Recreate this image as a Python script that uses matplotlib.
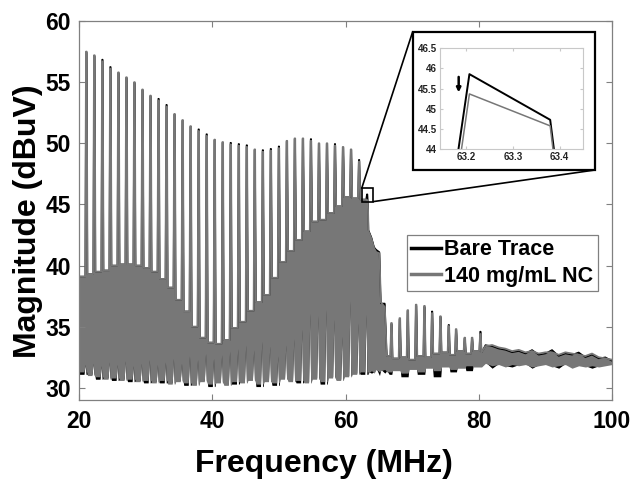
import matplotlib
matplotlib.use("Agg")
import matplotlib.pyplot as plt
from matplotlib.patches import Rectangle, ConnectionPatch
from matplotlib.lines import Line2D
from matplotlib.ticker import FuncFormatter

plt.rcParams["font.family"] = ["Liberation Sans", "DejaVu Sans"]
plt.rcParams["font.weight"] = "bold"

BARE = "black"
NC = "#777777"

# main comb: one tall peak every ~1.2 MHz
peak_freq = [21.05, 22.25, 23.46, 24.66, 25.87, 27.07, 28.27, 29.48, 30.68, 31.89,
             33.09, 34.29, 35.50, 36.70, 37.91, 39.11, 40.31, 41.52, 42.72, 43.93,
             45.13, 46.33, 47.54, 48.74, 49.95, 51.15, 52.35, 53.56, 54.76, 55.97,
             57.17, 58.37, 59.58, 60.78, 61.99, 63.20]
bare_peak = [57.45, 57.15, 56.85, 56.25, 55.75, 55.35, 54.95, 54.35, 53.85, 53.65,
             53.15, 52.35, 51.85, 51.35, 51.15, 50.75, 50.25, 50.05, 50.05, 49.95,
             49.85, 49.45, 49.45, 49.55, 49.75, 50.15, 50.35, 50.35, 50.35, 49.95,
             49.95, 49.95, 49.65, 49.45, 48.65, 45.83]
nc_peak = [57.5, 57.2, 56.7, 56.1, 55.8, 55.4, 55.0, 54.4, 53.9, 53.5,
           53.0, 52.4, 51.9, 51.4, 51.0, 50.6, 50.3, 50.1, 49.9, 49.8,
           49.7, 49.5, 49.3, 49.4, 49.6, 50.2, 50.4, 50.4, 50.2, 50.0,
           50.0, 49.8, 49.7, 49.5, 48.5, 45.35]
# top of the dense band just before each peak
comb_mid = [39.1, 39.3, 39.5, 39.6, 40.0, 40.1, 40.1, 40.0, 39.8, 39.5,
            38.9, 38.2, 37.2, 36.25, 35.0, 34.1, 33.7, 33.6, 33.9, 34.9,
            35.4, 36.3, 37.0, 37.6, 39.0, 40.3, 41.2, 42.1, 42.8, 43.6,
            43.75, 44.3, 44.85, 45.6, 45.5, 45.4]
nc_floor = [31.3, 31.0, 30.9, 30.7, 30.8, 30.6, 30.7, 30.5, 30.6, 30.4,
            30.6, 30.3, 30.5, 30.4, 30.2, 30.5, 30.3, 30.4, 30.2, 30.5,
            30.4, 30.6, 30.3, 30.5, 30.4, 30.7, 30.5, 30.6, 30.4, 30.7,
            30.5, 30.8, 30.6, 30.9, 31.1, 31.3]
bare_floor = [31.1, 31.1, 30.7, 30.8, 30.6, 30.7, 30.5, 30.6, 30.4, 30.5,
              30.4, 30.4, 30.6, 30.2, 30.3, 30.6, 30.1, 30.5, 30.3, 30.3,
              30.5, 30.7, 30.1, 30.6, 30.2, 30.8, 30.6, 30.4, 30.5, 30.8,
              30.3, 30.9, 30.7, 31.0, 31.2, 31.1]
# light streaks rising from the floor next to each peak
comb_notch = [31.9, 32.0, 31.8, 32.1, 31.9, 32.2, 31.8, 32.0, 32.3, 31.9,
              32.1, 32.4, 32.0, 32.6, 32.3, 32.8, 32.4, 32.7, 33.0, 33.2,
              33.5, 33.1, 33.8, 33.4, 32.6, 33.5, 34.0, 34.8, 36.1, 35.9,
              36.4, 35.6, 34.2, 37.1, 35.3, 36.0]

# fall-off after the last big peak
tail_freq = [63.38, 63.45, 63.9, 64.3, 64.6, 65.1, 65.3, 65.9, 66.2]
bare_tail = [44.70, 42.9, 42.3, 41.5, 41.3, 41.1, 36.9, 36.9, 32.6]
nc_tail = [44.57, 42.8, 42.2, 41.4, 41.1, 41.0, 37.0, 36.6, 32.6]
bare_tail_floor = [31.1, 31.3, 31.2, 31.3, 31.6, 31.0, 31.5, 31.2, 31.4]
nc_tail_floor = [31.3, 31.2, 31.4, 31.2, 31.5, 31.3, 31.4, 31.5, 31.3]

# smaller comb 66-80 MHz
post_freq = [66.85, 68.1, 69.3, 70.55, 71.8, 72.95, 74.2, 75.45, 76.55, 77.85, 78.95, 80.2]
bare_post = [35.2, 35.6, 36.3, 36.7, 36.6, 36.25, 35.8, 35.15, 34.7, 34.05, 34.0, 34.6]
nc_post = [35.3, 35.7, 36.35, 36.8, 36.7, 36.1, 35.85, 35.05, 34.8, 34.1, 34.1, 34.4]
post_mid = [32.6, 32.4, 32.5, 32.3, 32.6, 32.5, 32.8, 32.9, 32.7, 33.0, 32.8, 33.0, 32.9]
nc_post_floor = [31.3, 31.4, 31.2, 31.5, 31.3, 31.6, 31.4, 31.7, 31.5, 31.6, 31.8, 31.7, 31.7]
bare_post_floor = [31.1, 31.5, 30.9, 31.6, 31.1, 31.7, 30.9, 31.8, 31.3, 31.7, 31.4, 31.8, 31.8]

# noise floor 81-100 MHz
noise_freq = [81, 82, 83, 84, 85, 86, 87, 88, 89, 90,
              91, 92, 93, 94, 95, 96, 97, 98, 99, 100]
nc_noise_hi = [33.4, 33.5, 33.3, 33.2, 33.0, 33.1, 32.9, 33.0, 32.8, 32.9,
               32.9, 32.7, 32.9, 32.8, 32.7, 32.6, 32.8, 32.5, 32.4, 32.3]
nc_noise_lo = [32.0, 31.8, 31.9, 31.7, 31.9, 31.8, 31.9, 31.7, 31.8, 31.9,
               31.7, 31.8, 31.9, 31.6, 31.8, 31.7, 31.8, 31.7, 31.8, 31.9]
bare_noise_hi = [33.5, 33.4, 33.2, 33.1, 32.9, 33.0, 32.8, 33.1, 32.7, 32.8,
                 33.1, 32.6, 32.8, 32.7, 32.9, 32.5, 32.7, 32.4, 32.5, 32.2]
bare_noise_lo = [32.1, 31.6, 32.0, 31.8, 31.7, 31.9, 32.0, 31.6, 31.9, 32.0,
                 31.8, 31.6, 32.0, 31.7, 31.9, 31.8, 31.6, 31.8, 31.9, 32.0]

# inset: zoom on the 63.2 MHz peak
zoom_bare_freq = [63.1835, 63.207, 63.38, 63.388]
zoom_bare = [44.0, 45.86, 44.73, 44.0]
zoom_nc_freq = [63.19, 63.207, 63.38, 63.386]
zoom_nc = [44.0, 45.37, 44.58, 44.0]


def comb(freqs, peaks, mids, floors, notches):
    x, hi, lo = [], [], []
    for i, f in enumerate(freqs):
        x += [f - 0.3, f - 0.12, f, f + 0.1]
        hi += [mids[i], mids[i], peaks[i], peaks[i]]
        lo += [floors[i], notches[i], floors[i], floors[i]]
        if i + 1 < len(mids):
            x.append(f + 0.22)
            hi.append(mids[i + 1])
            lo.append(floors[i + 1])
    return x, hi, lo


def trace(peak, floor, tail, tail_floor, post, post_floor, noise_hi, noise_lo):
    x, hi, lo = [20.0], [comb_mid[0]], [floor[0]]
    cx, ch, cl = comb(peak_freq, peak, comb_mid, floor, comb_notch)
    x += cx; hi += ch; lo += cl
    x += tail_freq; hi += tail; lo += tail_floor
    cx, ch, cl = comb(post_freq, post, post_mid, post_floor, post_floor)
    x += cx; hi += ch; lo += cl
    x += noise_freq; hi += noise_hi; lo += noise_lo
    return x, hi, lo


fig = plt.figure(figsize=(6.43, 4.79), dpi=100)
ax = fig.add_axes([0.1229, 0.1649, 0.8289, 0.7912])

series = [
    (BARE, 1.0, trace(bare_peak, bare_floor, bare_tail, bare_tail_floor, bare_post,
                      bare_post_floor, bare_noise_hi, bare_noise_lo)),
    (NC, 1.3, trace(nc_peak, nc_floor, nc_tail, nc_tail_floor, nc_post,
                    nc_post_floor, nc_noise_hi, nc_noise_lo)),
]
for color, lw, (x, hi, lo) in series:
    ax.fill_between(x, lo, hi, color=color, linewidth=0)
    ax.plot(x, hi, color=color, lw=lw)

ax.set_xlim(20, 100)
ax.set_ylim(29.0, 60)
ax.set_xticks([20, 40, 60, 80, 100])
ax.set_yticks([30, 35, 40, 45, 50, 55, 60])
for s in ax.spines.values():
    s.set_color("#808080")
    s.set_linewidth(0.9)
ax.tick_params(direction="in", length=4, color="#808080", top=True, right=True,
               labelsize=16.5, labelcolor="black")
ax.tick_params(axis="x", pad=7.5)
ax.tick_params(axis="y", pad=6)

fig.text(0.504, 0.0146, "Frequency (MHz)", fontsize=23, fontweight="bold",
         ha="center", va="baseline")
fig.text(0.0435, 0.5376, "Magnitude (dBuV)", fontsize=23, fontweight="bold",
         ha="center", va="center", rotation=90)

handles = [Line2D([], [], color=BARE, lw=2.5), Line2D([], [], color=NC, lw=2.5)]
leg = ax.legend(handles, ["Bare Trace", "140 mg/mL NC"], loc="upper left",
                bbox_to_anchor=(0.6325, 0.5094), bbox_transform=fig.transFigure,
                fontsize=15.5, frameon=True, fancybox=False, framealpha=1,
                borderpad=0.2, labelspacing=0.25, handlelength=1.4,
                handletextpad=0.15, borderaxespad=0)
leg.get_frame().set_edgecolor("#808080")
leg.get_frame().set_linewidth(0.9)

# box marking the zoomed region
ax.add_patch(Rectangle((62.43, 45.23), 1.74, 1.09, fill=False, edgecolor="black",
                       lw=1.2, zorder=5))

frame = Rectangle((0.6418, 0.6451), 0.2835, 0.2887, transform=fig.transFigure,
                  facecolor="white", edgecolor="black", lw=1.6, zorder=3)
fig.add_artist(frame)
for xy_a, xy_b in [((62.43, 46.32), (0.6418, 0.9338)), ((64.17, 45.23), (0.9253, 0.6451))]:
    con = ConnectionPatch(xyA=xy_a, coordsA=ax.transData, xyB=xy_b,
                          coordsB=fig.transFigure, color="black", lw=1.2, zorder=3)
    fig.add_artist(con)

ax_in = fig.add_axes([0.6843, 0.6883, 0.2229, 0.2109])
ax_in.set_zorder(4)
ax_in.plot(zoom_bare_freq, zoom_bare, color=BARE, lw=1.4)
ax_in.plot(zoom_nc_freq, zoom_nc, color=NC, lw=1.1)
ax_in.annotate("", xy=(63.184, 45.34), xytext=(63.184, 45.86),
               arrowprops=dict(arrowstyle="-|>", color="black", lw=1.8, mutation_scale=6))
ax_in.set_xlim(63.144, 63.451)
ax_in.set_ylim(44, 46.5)
ax_in.set_xticks([63.2, 63.3, 63.4])
ax_in.set_yticks([44, 44.5, 45, 45.5, 46, 46.5])
ax_in.yaxis.set_major_formatter(FuncFormatter(lambda v, p: f"{v:g}"))
for s in ax_in.spines.values():
    s.set_color("#c8c8c8")
    s.set_linewidth(0.8)
ax_in.tick_params(direction="in", length=2.5, color="#c8c8c8", top=True, right=True,
                  labelsize=7, labelcolor="#222222", pad=2)

fig.savefig("out.png", dpi=100)
